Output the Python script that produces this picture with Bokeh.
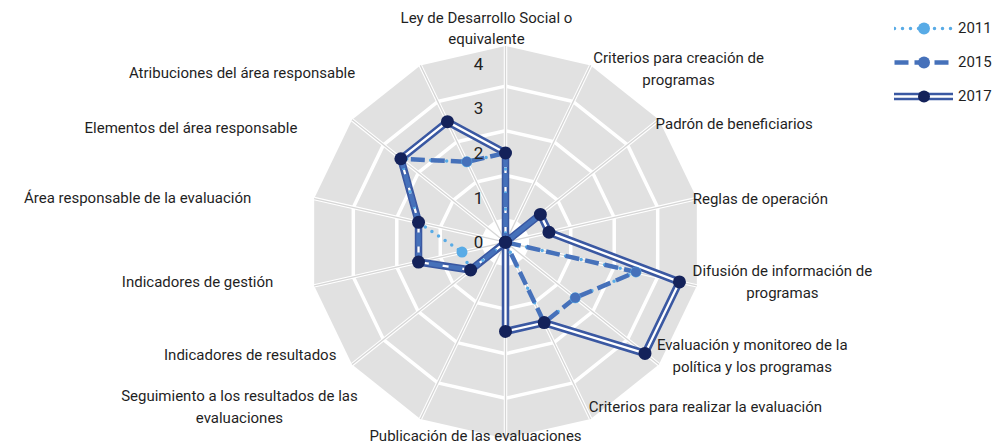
import math
from bokeh.plotting import figure
from bokeh.models import Range1d, Legend, LegendItem, ColumnDataSource
from bokeh.core.properties import value
from bokeh.embed import file_html
from bokeh.resources import INLINE

# ---------------- data ----------------
categories = [
    "Ley de Desarrollo Social o\nequivalente",
    "Criterios para creación de\nprogramas",
    "Padrón de beneficiarios",
    "Reglas de operación",
    "Difusión de información de\nprogramas",
    "Evaluación y monitoreo de la\npolítica y los programas",
    "Criterios para realizar la evaluación",
    "Publicación de las evaluaciones",
    "Seguimiento a los resultados de las\nevaluaciones",
    "Indicadores de resultados",
    "Indicadores de gestión",
    "Área responsable de la evaluación",
    "Elementos del área responsable",
    "Atribuciones del área responsable",
]
s2011 = [2, 0, 1, 0, 3, 2, 2, 0, 0, 1, 1, 2, 3, 2]
s2015 = [2, 0, 1, 0, 3, 2, 2, 0, 0, 1, 2, 2, 3, 2]
s2017 = [2, 0, 1, 1, 4, 4, 2, 2, 0, 1, 2, 2, 3, 3]
series_names = ["2011", "2015", "2017"]
tick_values = [0, 1, 2, 3, 4]
band_edges = [0.5, 1.5, 2.5, 3.5]
band_outer = 4.4

# ---------------- layout ----------------
W, H = 999, 448
CX, CY = 505.0, 241.7      # centre of the web, canvas px
U = 44.6                   # px per unit
N = len(categories)
FONT = "Roboto"

p = figure(width=W, height=H, min_border=0, x_axis_type=None, y_axis_type=None,
           toolbar_location=None, output_backend="svg",
           x_range=Range1d(-CX / U, (W - CX) / U),
           y_range=Range1d(-(H - CY) / U, CY / U))
p.outline_line_color = None
p.xgrid.visible = False
p.ygrid.visible = False
p.background_fill_color = "white"
p.border_fill_color = "white"


def ang(i):
    return 2 * math.pi * i / N


def polar(r, i):
    a = ang(i)
    return r * math.sin(a), r * math.cos(a)


def ring(r):
    pts = [polar(r, i) for i in range(N)] + [polar(r, 0)]
    return [q[0] for q in pts], [q[1] for q in pts]


# background web
ox, oy = ring(band_outer)
p.patch(ox, oy, fill_color="#e1e1e1", line_color=None)
rx, ry = [], []
for r in band_edges:
    a, b = ring(r)
    rx.append(a)
    ry.append(b)
p.multi_line(rx, ry, line_color="white", line_width=3.5)
ix, iy = ring(band_edges[0])
p.patch(ix, iy, fill_color="white", line_color=None)
sx = [[0, polar(band_outer, i)[0]] for i in range(N)]
sy = [[0, polar(band_outer, i)[1]] for i in range(N)]
p.multi_line(sx, sy, line_color="white", line_width=3.5)
p.multi_line(sx, sy, line_color="#d6d6d6", line_width=1.3)


def closed_xy(vals):
    pts = [polar(v, i) for i, v in enumerate(vals)]
    pts.append(pts[0])
    return [q[0] for q in pts], [q[1] for q in pts]


C2011 = "#58abe6"
C2015 = "#4671ba"
C2017L = "#3a58a2"
C2017M = "#14225a"

x17, y17 = closed_xy(s2017)
x15, y15 = closed_xy(s2015)
x11, y11 = closed_xy(s2011)

l17a = p.line(x17, y17, line_color=C2017L, line_width=7.5, line_join="miter", line_cap="round")
l17b = p.line(x17, y17, line_color="white", line_width=2.3, line_join="miter", line_cap="round")
l11 = p.line(x11, y11, line_color=C2011, line_width=3.5, line_dash="0 8", line_cap="round")
l15 = p.line(x15, y15, line_color=C2015, line_width=4.5, line_dash="14 6")
m11 = p.scatter(x11[:-1], y11[:-1], size=11, fill_color=C2011, line_color=None)
m15 = p.scatter(x15[:-1], y15[:-1], size=10, fill_color=C2015, line_color=None)
m17 = p.scatter(x17[:-1], y17[:-1], size=13, fill_color=C2017M, line_color=None)

# tick labels
p.text(x=[-27 / U] * len(tick_values), y=tick_values, text=[str(t) for t in tick_values],
       text_font=value(FONT), text_font_size="17px", text_color="#222222",
       text_align="center", text_baseline="middle")

# category labels
LABEL_R = 192.0           # px
LH = 21.5                 # line height px
CW = 6.9                  # estimated char width px
nudges = [(-19, 0), (0, 0), (0, 2), (0, 0), (0, -3), (0, -6), (0, -8),
          (-30, -9), (-62, -8), (-19, -7), (-45, -3), (-67, -1), (-58, 6), (-67, 4)]
lab = dict(x=[], y=[], text=[], align=[])
for i, name in enumerate(categories):
    lines = name.split("\n")
    n = len(lines)
    a = ang(i)
    ax = LABEL_R * math.sin(a) + nudges[i][0]
    ay = -LABEL_R * math.cos(a) + nudges[i][1]      # screen-down px
    wblk = max(len(t) for t in lines) * CW
    if i == 0:
        side = "top"
    elif i == N // 2:
        side = "bottom"
    elif i < N // 2:
        side = "right"
    else:
        side = "left"
    for k, t in enumerate(lines):
        if side == "top":
            yy = ay - (n - 1 - k) * LH - LH / 2
            xx, al = ax, "center"
        elif side == "bottom":
            yy = ay + k * LH + LH / 2
            xx, al = ax, "center"
        else:
            yy = ay + (k - (n - 1) / 2) * LH
            if n == 1:
                xx, al = ax, ("left" if side == "right" else "right")
            else:
                xx = ax + wblk / 2 if side == "right" else ax - wblk / 2
                al = "center"
        lab["x"].append(xx / U)
        lab["y"].append(-yy / U)
        lab["text"].append(t)
        lab["align"].append(al)

src = ColumnDataSource(lab)
p.text(x="x", y="y", text="text", source=src, text_align="align", text_baseline="middle",
       text_font=value(FONT), text_font_size="15px", text_color="#1f1f1f")

legend = Legend(items=[
    LegendItem(label=series_names[0], renderers=[l11, m11]),
    LegendItem(label=series_names[1], renderers=[l15, m15]),
    LegendItem(label=series_names[2], renderers=[l17a, l17b, m17]),
], location=(894, 337), glyph_width=59, glyph_height=30, label_height=30, spacing=4,
    padding=0, margin=0, label_standoff=5, border_line_color=None,
    background_fill_alpha=0, label_text_font=FONT, label_text_font_size="15px",
    label_text_color="#1f1f1f")
p.add_layout(legend)

open("out.html", "w").write(file_html(p, INLINE))
